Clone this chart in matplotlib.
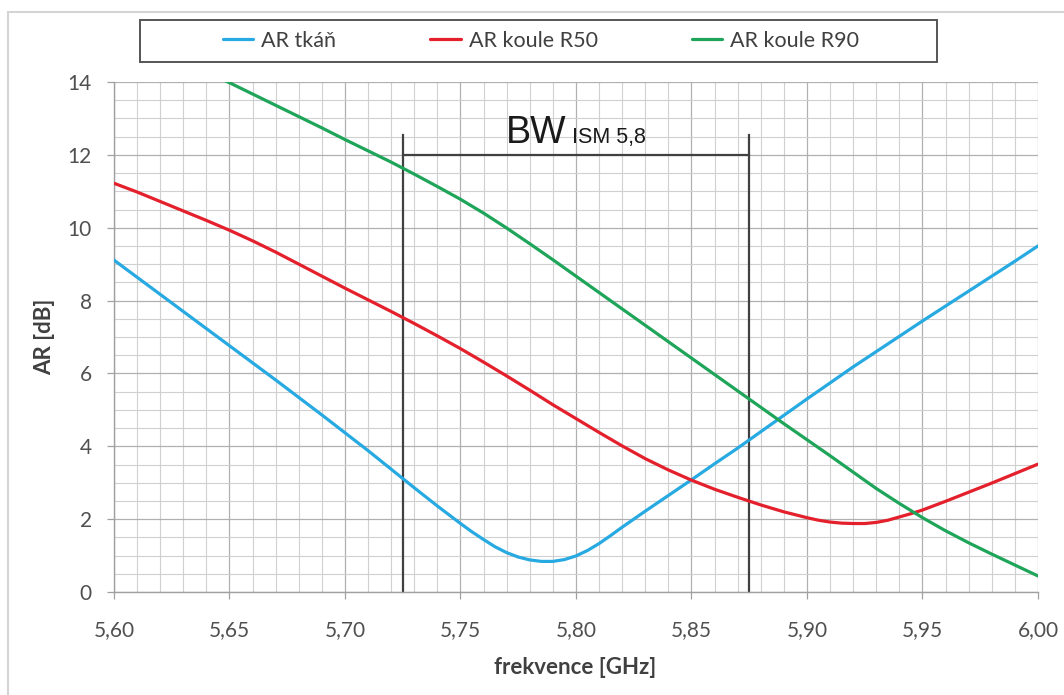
import matplotlib
matplotlib.use("Agg")
import matplotlib.pyplot as plt
from matplotlib.ticker import MultipleLocator, FuncFormatter
from matplotlib.patches import Rectangle

# Frequency axis [GHz], one grid per series (denser around the minima)
freq_tkan = [5.60, 5.61, 5.62, 5.63, 5.64, 5.65, 5.66, 5.67, 5.68, 5.69,
             5.70, 5.71, 5.72, 5.73, 5.74, 5.75, 5.755, 5.76, 5.765, 5.77,
             5.775, 5.78, 5.785, 5.79, 5.795, 5.80, 5.805, 5.81, 5.815, 5.82,
             5.83, 5.84, 5.85, 5.86, 5.87, 5.88, 5.89, 5.90, 5.91, 5.92,
             5.93, 5.94, 5.95, 5.96, 5.97, 5.98, 5.99, 6.00]
ar_tkan = [9.11, 8.64, 8.17, 7.70, 7.23, 6.76, 6.29, 5.82, 5.34, 4.86,
           4.37, 3.88, 3.37, 2.86, 2.36, 1.88, 1.65, 1.44, 1.24, 1.08,
           0.96, 0.88, 0.84, 0.84, 0.89, 0.99, 1.14, 1.33, 1.55, 1.78,
           2.22, 2.65, 3.08, 3.52, 3.95, 4.40, 4.85, 5.30, 5.74, 6.18,
           6.60, 7.02, 7.44, 7.85, 8.26, 8.67, 9.08, 9.50]

freq_r50 = [5.60, 5.61, 5.62, 5.63, 5.64, 5.65, 5.66, 5.67, 5.68, 5.69,
            5.70, 5.71, 5.72, 5.73, 5.74, 5.75, 5.76, 5.77, 5.78, 5.79,
            5.80, 5.81, 5.82, 5.83, 5.84, 5.85, 5.86, 5.87, 5.88, 5.89,
            5.90, 5.905, 5.91, 5.915, 5.92, 5.925, 5.93, 5.935, 5.94, 5.945,
            5.95, 5.96, 5.97, 5.98, 5.99, 6.00]
ar_r50 = [11.22, 10.98, 10.72, 10.46, 10.20, 9.93, 9.64, 9.33, 9.00, 8.67,
          8.34, 8.02, 7.70, 7.37, 7.03, 6.68, 6.31, 5.93, 5.54, 5.14,
          4.76, 4.38, 4.01, 3.66, 3.35, 3.07, 2.82, 2.60, 2.39, 2.20,
          2.04, 1.97, 1.92, 1.89, 1.88, 1.88, 1.91, 1.97, 2.06, 2.15,
          2.25, 2.49, 2.74, 2.99, 3.25, 3.51]

freq_r90 = [5.60, 5.61, 5.62, 5.63, 5.64, 5.65, 5.66, 5.67, 5.68, 5.69,
            5.70, 5.71, 5.72, 5.73, 5.74, 5.75, 5.76, 5.77, 5.78, 5.79,
            5.80, 5.81, 5.82, 5.83, 5.84, 5.85, 5.86, 5.87, 5.88, 5.89,
            5.90, 5.91, 5.92, 5.93, 5.94, 5.95, 5.96, 5.97, 5.98, 5.99, 6.00]
ar_r90 = [15.45, 15.15, 14.85, 14.55, 14.27, 13.98, 13.67, 13.36, 13.05, 12.74,
          12.42, 12.11, 11.80, 11.47, 11.13, 10.78, 10.40, 9.99, 9.56, 9.12,
          8.67, 8.22, 7.77, 7.32, 6.87, 6.42, 5.97, 5.52, 5.07, 4.62,
          4.18, 3.74, 3.29, 2.84, 2.43, 2.04, 1.68, 1.35, 1.04, 0.74, 0.44]

series_labels = ["AR tkáň", "AR koule R50", "AR koule R90"]
series_colors = ["#27A9E1", "#E3202B", "#1FA55A"]

# ISM 5.8 GHz band edges and bracket height
bw_band = [5.725, 5.875]
bw_level = 12.0
bw_top = 12.55

x_ticks = [5.60, 5.65, 5.70, 5.75, 5.80, 5.85, 5.90, 5.95, 6.00]
y_ticks = [0, 2, 4, 6, 8, 10, 12, 14]

plt.rcParams["font.family"] = ["Lato", "DejaVu Sans"]

W, H = 1064, 695
fig = plt.figure(figsize=(W / 100, H / 100), dpi=100)
fig.patch.set_facecolor("white")

# light outer frame of the chart area
fig.patches.append(Rectangle((8 / W, -0.05), 1.2, 1.05 - 12 / H,
                             transform=fig.transFigure, fill=False,
                             edgecolor="#d4d4d4", linewidth=1.5, zorder=0))

ax = fig.add_axes([114 / W, (H - 592) / H, (1038 - 114) / W, (592 - 82) / H])
ax.set_xlim(5.60, 6.00)
ax.set_ylim(0, 14)

ax.xaxis.set_minor_locator(MultipleLocator(0.01))
ax.yaxis.set_minor_locator(MultipleLocator(0.5))
ax.set_xticks(x_ticks)
ax.set_yticks(y_ticks)
ax.xaxis.set_major_formatter(FuncFormatter(lambda v, p: f"{v:.2f}".replace(".", ",")))
ax.yaxis.set_major_formatter(FuncFormatter(lambda v, p: f"{v:.0f}"))

ax.grid(which="major", color="#b0b0b0", linewidth=0.9)
ax.grid(which="minor", color="#d0d0d0", linewidth=0.8)
ax.set_axisbelow(True)

for side in ("top", "right"):
    ax.spines[side].set_visible(False)
for side in ("left", "bottom"):
    ax.spines[side].set_color("#a0a0a0")
    ax.spines[side].set_linewidth(1.0)

ax.tick_params(axis="x", which="major", length=5, width=0.9, color="#a0a0a0",
               labelsize=15, labelcolor="#505050", pad=15)
ax.tick_params(axis="y", which="major", length=5, width=0.9, color="#a0a0a0",
               labelsize=15, labelcolor="#505050", pad=11)
ax.tick_params(which="minor", length=0)

# bandwidth bracket
for f in bw_band:
    ax.plot([f, f], [0, bw_top], color="#404040", linewidth=1.6, zorder=2,
            clip_on=False)
ax.plot(bw_band, [bw_level, bw_level], color="#404040", linewidth=1.6, zorder=2)
ax.text(5.7695, 12.33, "BW", fontsize=27, family="Liberation Sans",
        color="#1a1a1a", ha="left", va="baseline")
ax.text(5.7983, 12.33, "ISM 5,8", fontsize=15.5, family="Liberation Sans",
        color="#1a1a1a", ha="left", va="baseline")

handles = []
for fx, vals, lab, col in zip([freq_tkan, freq_r50, freq_r90],
                              [ar_tkan, ar_r50, ar_r90],
                              series_labels, series_colors):
    h, = ax.plot(fx, vals, color=col, linewidth=2.3, label=lab, zorder=3,
                 solid_joinstyle="round", solid_capstyle="round")
    handles.append(h)

# legend box on top
fig.patches.append(Rectangle((140 / W, 1 - 62 / H), (937 - 140) / W, 42 / H,
                             transform=fig.transFigure, fill=False,
                             edgecolor="#555555", linewidth=1.4))
fig.legend(handles=handles, labels=series_labels, loc="center",
           bbox_to_anchor=(541 / W, 1 - 41 / H), ncol=3, frameon=False,
           fontsize=15.5, handlelength=1.4, handletextpad=0.37,
           columnspacing=4.4, labelcolor="#404040")

fig.text(575 / W, 1 - 668 / H, "frekvence [GHz]", ha="center", va="center",
         fontsize=16, fontweight="bold", color="#404040")
fig.text(45 / W, 1 - 337 / H, "AR [dB]", ha="center", va="center",
         rotation=90, fontsize=16, fontweight="bold", color="#404040")

fig.savefig("out.png", dpi=100, facecolor="white")
